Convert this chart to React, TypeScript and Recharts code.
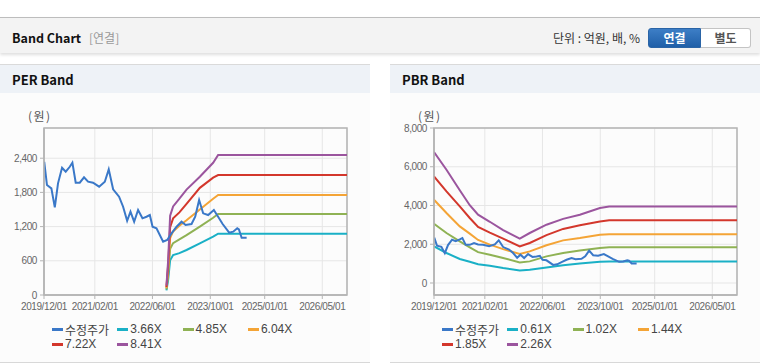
import React from 'react';
import { CartesianGrid, Line, LineChart, ReferenceArea, XAxis, YAxis } from 'recharts';

// 수정주가 (shared by both panels)
const priceDates = [
  '2019-12-03', '2019-12-26', '2020-02-01', '2020-03-01', '2020-03-28', '2020-05-01', '2020-06-01',
  '2020-07-05', '2020-07-27', '2020-08-24', '2020-09-27', '2020-11-02', '2020-12-06', '2021-01-17',
  '2021-03-09', '2021-04-26', '2021-05-29', '2021-07-05', '2021-08-24', '2021-09-27', '2021-10-31',
  '2021-11-28', '2021-12-29', '2022-01-31', '2022-03-09', '2022-04-12', '2022-05-10', '2022-06-02',
  '2022-07-05', '2022-08-30', '2022-10-03', '2022-11-09', '2022-12-21', '2023-02-01', '2023-03-07',
  '2023-04-26', '2023-05-27', '2023-06-29', '2023-08-02', '2023-09-13', '2023-10-31', '2023-12-06',
  '2024-01-13', '2024-03-08', '2024-04-11', '2024-05-15', '2024-05-29', '2024-06-21', '2024-08-02',
];
const priceValues = [
  2338, 1930, 1871, 1538, 1959, 2233, 2163, 2250, 2321, 1970, 1970, 2065, 1988, 1970, 1900, 1988, 2205,
  1854, 1725, 1549, 1303, 1461, 1286, 1491, 1345, 1373, 1403, 1198, 1170, 935, 965, 1082, 1198, 1286,
  1228, 1245, 1373, 1667, 1433, 1403, 1491, 1373, 1245, 1093, 1111, 1170, 1152, 1005, 1005,
];

// PER band
const perDates = [
  '2022-09-27', '2022-10-11', '2022-10-28', '2022-11-22', '2023-01-14', '2023-03-15', '2023-07-05',
  '2023-10-25', '2023-12-06', '2026-11-25',
];
const per366 = [80, 263, 610, 702, 735, 790, 907, 1025, 1076, 1076];
const per485 = [100, 350, 810, 910, 975, 1050, 1200, 1355, 1421, 1421];
const per604 = [120, 430, 1000, 1115, 1215, 1310, 1500, 1690, 1754, 1754];
const per722 = [140, 520, 1190, 1345, 1450, 1600, 1880, 2060, 2105, 2105];
const per841 = [165, 600, 1390, 1555, 1690, 1850, 2075, 2320, 2456, 2456];
const perLabels = ['3.66X', '4.85X', '6.04X', '7.22X', '8.41X'];

// PBR band
const pbrDates = [
  '2019-12-01', '2020-03-15', '2020-07-05', '2020-09-27', '2020-12-06', '2021-03-15', '2021-07-05',
  '2021-11-22', '2022-02-14', '2022-07-05', '2022-11-22', '2023-04-12', '2023-09-28', '2023-12-15',
  '2026-11-25',
];
const pbr061 = [1889, 1548, 1238, 1100, 970, 893, 770, 650, 680, 800, 920, 1010, 1090, 1115, 1115];
const pbr102 = [3060, 2580, 2147, 1838, 1592, 1460, 1290, 1063, 1115, 1373, 1548, 1682, 1806, 1840, 1840];
const pbr144 = [4298, 3612, 2921, 2550, 2220, 1980, 1750, 1496, 1631, 1950, 2200, 2322, 2492, 2515, 2515];
const pbr185 = [5500, 4727, 3953, 3354, 2890, 2600, 2292, 1889, 2064, 2470, 2790, 2980, 3179, 3240, 3240];
const pbr226 = [6760, 5846, 4788, 4016, 3524, 3160, 2724, 2290, 2580, 3009, 3310, 3524, 3870, 3953, 3953];
const pbrLabels = ['0.61X', '1.02X', '1.44X', '1.85X', '2.26X'];

const xTickDates = ['2019-12-01', '2021-02-01', '2022-06-01', '2023-10-01', '2025-01-01', '2026-05-01'];
const xStart = '2019-12-01';
const xEnd = '2026-11-25';
const perTicks = [0, 600, 1200, 1800, 2400];
const pbrTicks = [0, 2000, 4000, 6000, 8000];

const priceName = '수정주가';
const colors = ['#3a78c8', '#1ab0c6', '#8fb254', '#f4a436', '#d3372c', '#9b559e'];

const ts = (d: string) => Date.parse(d + 'T00:00:00Z');
const fmtDate = (v: number) => {
  const d = new Date(v);
  const p = (n: number) => String(n).padStart(2, '0');
  return `${d.getUTCFullYear()}/${p(d.getUTCMonth() + 1)}/${p(d.getUTCDate())}`;
};
const toRows = (dates: string[], vals: number[]) => dates.map((d, i) => ({ t: ts(d), v: vals[i] }));

const priceRows = toRows(priceDates, priceValues);

const tickFont = {
  fontSize: 10, fill: '#666', fontFamily: '"Liberation Sans", Arial, sans-serif', letterSpacing: -0.4,
};
const frame = '#b4b4b4';

interface PanelProps {
  left: number;
  title: string;
  dates: string[];
  bands: number[][];
  labels: string[];
  yDomain: [number, number];
  yTicks: number[];
}

const Panel = ({ left, title, dates, bands, labels, yDomain, yTicks }: PanelProps) => {
  const names = [priceName, ...labels];
  return (
    <div style={{ position: 'absolute', left, top: 64, width: 370, height: 299 }}>
      <div
        style={{
          position: 'absolute', left: 0, top: 0, width: 370, height: 29, boxSizing: 'border-box',
          borderTop: '1px solid #dadada', background: '#eef2f7',
        }}
      >
        <span
          style={{
            position: 'absolute', left: 12, top: 6, fontSize: 13, fontWeight: 700, color: '#111',
            fontFamily: '"Noto Sans CJK KR", sans-serif', lineHeight: '18px',
          }}
        >
          {title}
        </span>
      </div>
      <div
        style={{
          position: 'absolute', left: 0, top: 29, width: 370, height: 270, boxSizing: 'border-box',
          background: '#fcfcfc', borderBottom: '1px solid #d8d8d8',
        }}
      />
      <div
        style={{
          position: 'absolute', left: 28, top: 44, fontSize: 12, color: '#555', letterSpacing: 1.5,
          fontFamily: '"Noto Sans CJK KR", sans-serif', lineHeight: '15px',
        }}
      >
        (원)
      </div>
      <div style={{ position: 'absolute', left: 0, top: 29 }}>
        <LineChart width={370} height={230} margin={{ top: 35, right: 23, left: 0, bottom: 0 }}>
          <CartesianGrid stroke="#e6e6e6" />
          <XAxis
            dataKey="t"
            type="number"
            domain={[ts(xStart), ts(xEnd)]}
            ticks={xTickDates.map(ts)}
            tickFormatter={fmtDate}
            interval={0}
            height={28}
            tickSize={4}
            tickMargin={4}
            tick={tickFont}
            axisLine={{ stroke: frame, strokeWidth: 1.5 }}
            tickLine={{ stroke: frame }}
            allowDataOverflow
          />
          <YAxis
            type="number"
            domain={yDomain}
            ticks={yTicks}
            width={44}
            tickSize={4}
            tickMargin={3}
            tick={tickFont}
            tickFormatter={(v: number) => v.toLocaleString('en-US')}
            axisLine={{ stroke: frame, strokeWidth: 1.5 }}
            tickLine={{ stroke: frame }}
            allowDataOverflow
          />
          <ReferenceArea
            x1={ts(xStart)}
            x2={ts(xEnd)}
            y1={yDomain[0]}
            y2={yDomain[1]}
            fill="none"
            stroke={frame}
            strokeWidth={1.5}
          />
          {bands.map((vals, i) => (
            <Line
              key={labels[i]}
              data={toRows(dates, vals)}
              dataKey="v"
              name={labels[i]}
              stroke={colors[i + 1]}
              strokeWidth={2}
              dot={false}
              isAnimationActive={false}
            />
          ))}
          <Line
            data={priceRows}
            dataKey="v"
            name={priceName}
            stroke={colors[0]}
            strokeWidth={2}
            dot={false}
            isAnimationActive={false}
          />
        </LineChart>
      </div>
      {names.map((n, i) => (
        <div
          key={n}
          style={{
            position: 'absolute', left: 52 + (i % 4) * 65.3, top: 258 + Math.floor(i / 4) * 15,
            height: 15, display: 'flex', alignItems: 'center', whiteSpace: 'nowrap',
          }}
        >
          <span style={{ width: 11, height: 3, background: colors[i], marginRight: 2 }} />
          <span
            style={{
              fontSize: 12, color: '#444', lineHeight: '15px',
              fontFamily: i === 0 ? '"Noto Sans CJK KR", sans-serif' : '"Liberation Sans", Arial, sans-serif',
            }}
          >
            {n}
          </span>
        </div>
      ))}
    </div>
  );
};

export default function App() {
  return (
    <div
      style={{
        position: 'absolute', left: 0, top: 0, width: 760, height: 364, background: '#fff', overflow: 'hidden',
        fontFamily: '"Noto Sans CJK KR", sans-serif',
      }}
    >
      <div
        style={{
          position: 'absolute', left: 0, top: 17, width: 760, height: 36, boxSizing: 'border-box',
          borderTop: '1px solid #bdbdbd', background: '#f3f3f3', boxShadow: '0 2px 3px rgba(0,0,0,0.13)',
        }}
      >
        <span style={{ position: 'absolute', left: 12, top: 11, fontSize: 12.5, fontWeight: 700, color: '#111', lineHeight: '18px' }}>
          Band Chart
        </span>
        <span style={{ position: 'absolute', left: 89, top: 11, fontSize: 12, color: '#999', lineHeight: '18px' }}>
          [연결]
        </span>
        <span style={{ position: 'absolute', left: 553, top: 11, fontSize: 12, color: '#333', lineHeight: '18px' }}>
          단위 : 억원, 배, %
        </span>
        <div
          style={{
            position: 'absolute', left: 648, top: 10, width: 53, height: 20, boxSizing: 'border-box',
            background: 'linear-gradient(#3d7ec6, #1f5fa8)', border: '1px solid #2a64a6',
            borderRadius: '3px 0 0 3px', color: '#fff', fontSize: 12, fontWeight: 700,
            textAlign: 'center', lineHeight: '18px',
          }}
        >
          연결
        </div>
        <div
          style={{
            position: 'absolute', left: 701, top: 10, width: 50, height: 20, boxSizing: 'border-box',
            background: '#fff', border: '1px solid #c4c4c4', borderLeft: 'none',
            borderRadius: '0 3px 3px 0', color: '#555', fontSize: 12, fontWeight: 700,
            textAlign: 'center', lineHeight: '18px',
          }}
        >
          별도
        </div>
      </div>
      <Panel
        left={0}
        title="PER Band"
        dates={perDates}
        bands={[per366, per485, per604, per722, per841]}
        labels={perLabels}
        yDomain={[0, 2930]}
        yTicks={perTicks}
      />
      <Panel
        left={390}
        title="PBR Band"
        dates={pbrDates}
        bands={[pbr061, pbr102, pbr144, pbr185, pbr226]}
        labels={pbrLabels}
        yDomain={[-620, 8000]}
        yTicks={pbrTicks}
      />
    </div>
  );
}
